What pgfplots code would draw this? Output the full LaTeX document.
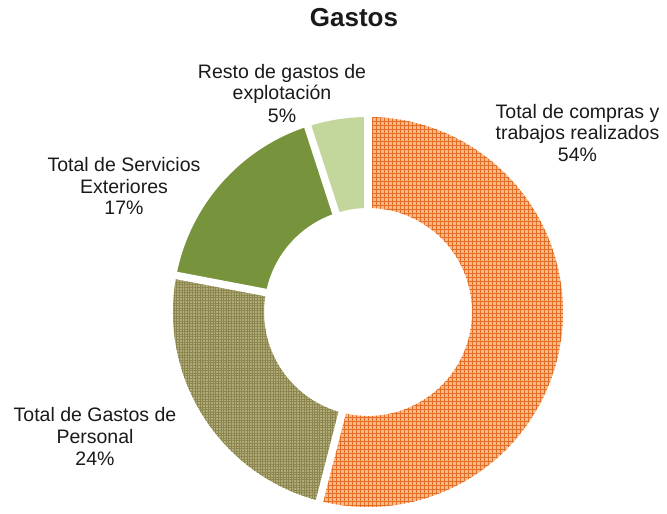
\documentclass[border=0pt]{standalone}
\usepackage{pgfplots}
\pgfplotsset{compat=1.18}
\usepackage{fontspec}
\setmainfont{Liberation Sans}
\usetikzlibrary{patterns.meta}
\definecolor{dgreen}{HTML}{77933C}
\definecolor{lgreen}{HTML}{C3D69B}
\definecolor{orbg}{HTML}{F6B88E}
\definecolor{orline}{HTML}{E66E22}
\definecolor{olbg}{HTML}{B0AB78}
\definecolor{olline}{HTML}{8A864E}
\definecolor{txt}{HTML}{1A1A1A}
% data (percent)
\def\vA{54}\def\vB{24}\def\vC{17}\def\vD{5}
\pgfmathsetmacro\aA{90}
\pgfmathsetmacro\aB{\aA-3.6*\vA}
\pgfmathsetmacro\aC{\aB-3.6*\vB}
\pgfmathsetmacro\aD{\aC-3.6*\vC}
\pgfmathsetmacro\aE{\aD-3.6*\vD}
\def\Ro{195bp}\def\Ri{104bp}
\newcommand\slicepath[2]{([shift={(#1:\Ro)}]C) arc[start angle=#1, end angle=#2, radius=\Ro] -- ([shift={(#2:\Ri)}]C) arc[start angle=#2, end angle=#1, radius=\Ri] -- cycle}
\newcommand\gap[1]{\draw[white, line width=7.5bp] ([shift={(#1:98bp)}]C) -- ([shift={(#1:200bp)}]C);}
\newcommand\lab[3]{\node[anchor=base, inner sep=0pt, text=txt, font=\fontsize{19.5bp}{22bp}\selectfont] at (axis cs:#1,#2) {#3};}
\begin{document}
\begin{tikzpicture}
\begin{axis}[
  width=667bp, height=506bp, scale only axis,
  xmin=0, xmax=667, ymin=0, ymax=506,
  hide axis, clip=false,
]
\addplot[draw=none] coordinates {(0,0) (667,506)};
\coordinate (C) at (axis cs:368,194);
% slices
\fill[orbg] \slicepath{\aA}{\aB};
\fill[pattern={Hatch[angle=0, distance=4bp, line width=1bp]}, pattern color=orline] \slicepath{\aA}{\aB};
\fill[olbg] \slicepath{\aB}{\aC};
\fill[pattern={Hatch[angle=0, distance=2.6bp, line width=0.7bp]}, pattern color=olline] \slicepath{\aB}{\aC};
\fill[dgreen] \slicepath{\aC}{\aD};
\fill[lgreen] \slicepath{\aD}{\aE};
\gap{\aA}\gap{\aB}\gap{\aC}\gap{\aD}
% title
\node[anchor=base, inner sep=0pt, text=txt, font=\fontsize{26bp}{30bp}\selectfont\bfseries] at (axis cs:354,479) {Gastos};
% labels
\lab{577.5}{387}{Total de compras y}
\lab{577.5}{366}{trabajos realizados}
\lab{577.5}{344.5}{54\%}
\lab{282}{427.7}{Resto de gastos de}
\lab{282}{406}{explotación}
\lab{282}{383.3}{5\%}
\lab{124}{334.3}{Total de Servicios}
\lab{124}{312.7}{Exteriores}
\lab{124}{291}{17\%}
\lab{95}{84.3}{Total de Gastos de}
\lab{95}{62.7}{Personal}
\lab{95}{41}{24\%}
\end{axis}
\end{tikzpicture}
\end{document}
